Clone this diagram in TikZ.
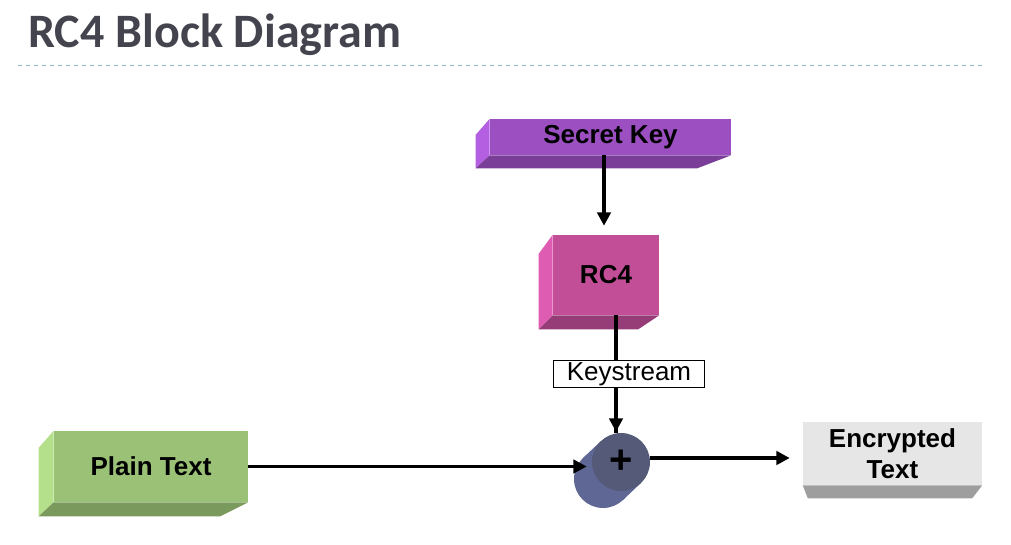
\documentclass[tikz,border=0pt]{standalone}
\usepackage{fontspec}
\setmainfont{Liberation Sans}
\newfontfamily\titlefont{Carlito}
\usetikzlibrary{calc,arrows.meta}
\definecolor{skF}{HTML}{9B4FC1}
\definecolor{skL}{HTML}{B45FE2}
\definecolor{skB}{HTML}{7A3D98}
\definecolor{rcF}{HTML}{C24E98}
\definecolor{rcL}{HTML}{DE5CB2}
\definecolor{rcB}{HTML}{963C77}
\definecolor{ptF}{HTML}{9BC177}
\definecolor{ptL}{HTML}{B4E08C}
\definecolor{ptB}{HTML}{7A995C}
\definecolor{etF}{HTML}{E6E6E6}
\definecolor{etB}{HTML}{9E9E9E}
\definecolor{xF}{HTML}{545A78}
\definecolor{xS}{HTML}{5F6794}
\definecolor{titlec}{HTML}{44444F}
\definecolor{rulec}{HTML}{8DB6CB}
\tikzset{
  face/.style={inner sep=0pt, font=\fontsize{19.5}{23}\selectfont\bfseries, text=black},
  arr/.style={line width=2.6pt, -{Triangle[length=10pt,width=10pt]}},
  plainline/.style={line width=2.6pt},
}
\begin{document}
\begin{tikzpicture}[x=0.75pt,y=-0.75pt]
\useasboundingbox (0,0) rectangle (1011,545);
% title
\node[anchor=base west, inner sep=0pt, text=titlec, font=\titlefont\fontsize{36}{40}\selectfont\bfseries] (title) at (28,48) {RC4 Block Diagram};
\draw[rulec, dashed, line width=0.75pt] (18,66) -- (982,66);

% Secret Key
\node[face, fill=skF, minimum width=180.75pt, minimum height=27pt] (sk) at (610.5,137) {Secret Key};
\fill[skL] (sk.north west) -- (sk.south west) -- ($(sk.south west)+(-14,13)$) -- ($(sk.north west)+(-14,16)$) -- cycle;
\fill[skB] (sk.south west) -- (sk.south east) -- ($(sk.south east)+(-34,13)$) -- ($(sk.south west)+(-14,13)$) -- cycle;

% RC4
\node[face, fill=rcF, minimum width=79.5pt, minimum height=60pt] (rc4) at (606,275) {RC4};
\fill[rcL] (rc4.north west) -- (rc4.south west) -- ($(rc4.south west)+(-14,14)$) -- ($(rc4.north west)+(-14,19)$) -- cycle;
\fill[rcB] (rc4.south west) -- (rc4.south east) -- ($(rc4.south east)+(-21,14)$) -- ($(rc4.south west)+(-14,14)$) -- cycle;

% Plain Text
\node[face, fill=ptF, minimum width=145.5pt, minimum height=53.25pt] (pt) at (151,466.5) {Plain Text};
\fill[ptL] (pt.north west) -- (pt.south west) -- ($(pt.south west)+(-15,14)$) -- ($(pt.north west)+(-15,17)$) -- cycle;
\fill[ptB] (pt.south west) -- (pt.south east) -- ($(pt.south east)+(-28,14)$) -- ($(pt.south west)+(-15,14)$) -- cycle;

% Encrypted Text
\node[face, fill=etF, minimum width=134.25pt, minimum height=47.25pt, align=center] (et) at (892.5,453.5) {Encrypted\\Text};
\fill[etB] (et.south west) -- (et.south east) -- ($(et.south east)+(-10,13)$) -- ($(et.south west)+(5,13)$) -- cycle;

% XOR cylinder
\coordinate (xc) at (621,462);
\fill[xS] ($(xc)+(-18,17)$) circle[radius=29];
\fill[xS] ($(xc)+(19.9,21.05)$) -- ($(xc)+(1.9,38.05)$) -- ($(xc)+(-37.9,-4.05)$) -- ($(xc)+(-19.9,-21.05)$) -- cycle;
\node[circle, fill=xF, minimum size=43.5pt, inner sep=0pt, font=\fontsize{30}{30}\selectfont\bfseries] (xor) at (xc) {+};

% connectors
\draw[arr, shorten >=6.75pt] ($(sk.south)+(-6.5,0)$) -- ($(rc4.north)+(-2,0)$);
\draw[plainline] ($(rc4.south)+(10,0)$) -- ($(xor.north)+(-5,0)$);
\draw[arr] ($(rc4.south)+(10,60)$) -- ($(xor.north)+(-5,-1)$);
\node[draw=black, line width=0.75pt, fill=white, inner sep=0pt, minimum width=113.25pt, minimum height=20.25pt, font=\fontsize{19.5}{23}\selectfont] (ks) at (629,374) {Keystream};
\draw[arr, shorten >=3.75pt] (pt.east) -- (pt.east -| xor.west);
\coordinate (xo) at ($(xor.east)+(0,-4)$);
\draw[arr, shorten >=9.75pt] (xo) -- (xo -| et.west);
\end{tikzpicture}
\end{document}
